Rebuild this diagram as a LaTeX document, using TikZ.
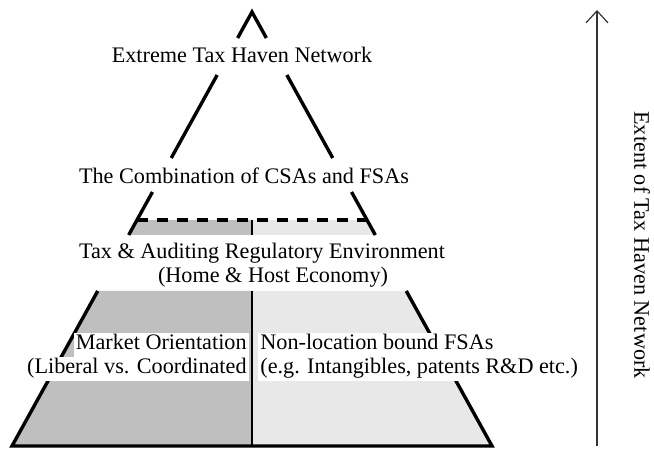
\documentclass[tikz,border=0pt]{standalone}
\usepackage{fontspec}
\setmainfont{Liberation Serif}
\usetikzlibrary{math}
\usetikzlibrary{calc}
\usetikzlibrary{arrows.meta}

\begin{document}
\begin{tikzpicture}[x=0.5pt,y=-0.5pt,
	side/.style={line width=1.7pt,line join=miter},
	dash line/.style={line width=1.8pt,dash pattern=on 5.5pt off 4.5pt},
	divider/.style={line width=1.4pt},
	dark/.style={fill=black!25},
	light/.style={fill=black!9},
	txt/.style={font=\fontsize{11.1}{12.5}\selectfont,inner sep=0pt,anchor=base},
	inbox/.style={txt,fill=white,text height=8pt,text depth=4pt,inner xsep=1pt,inner ysep=0pt},
	axis arrow/.style={line width=0.6pt,draw=black!80,-{Straight Barb[length=6pt,width=11pt]}}]

	\useasboundingbox (0,0) rectangle (654,449);

	\tikzmath{\h = 434;
			  \topend = 26/\h;
			  \midstart = 63/\h;
			  \midend = 146/\h;
			  \lowstart = 180/\h;
			  \dashy = 208/\h; 
			  \bandend = 223/\h;
			  \basestart = 279/\h;
	        }

	\coordinate (apex) at (252,12);
	\coordinate (bl) at (12,446);
	\coordinate (br) at (492,446);
	\coordinate (dl) at ($(apex)!\dashy!(bl)$);
	\coordinate (dr) at ($(apex)!\dashy!(br)$);
	\coordinate (el) at ($(apex)!\bandend!(bl)$);
	\coordinate (er) at ($(apex)!\bandend!(br)$);
	\coordinate (fl) at ($(apex)!\basestart!(bl)$);
	\coordinate (fr) at ($(apex)!\basestart!(br)$);

	% shaded halves
	\fill[dark] (dl) -- (apex |- dl) -- (apex |- el) -- (el) -- cycle;
	\fill[light] (dr) -- (apex |- dr) -- (apex |- er) -- (er) -- cycle;
	\fill[dark] (fl) -- (apex |- fl) -- (apex |- bl) -- (bl) -- cycle;
	\fill[light] (fr) -- (apex |- fr) -- (apex |- br) -- (br) -- cycle;

	% sides of the pyramid
	\draw[side] ($(apex)!\topend!(bl)$) -- (apex) -- ($(apex)!\topend!(br)$);
	\foreach \a/\b in {\midstart/\midend, \lowstart/\bandend}{
		\draw[side] ($(apex)!\a!(bl)$) -- ($(apex)!\b!(bl)$);
		\draw[side] ($(apex)!\a!(br)$) -- ($(apex)!\b!(br)$);
	}
	\draw[side] (fl) -- (bl) -- (br) -- (fr);
	\draw[dash line] (dl) -- (dr);
	\draw[divider] (apex |- dl) -- (apex |- el);
	\draw[divider] (apex |- fl) -- (apex |- bl);

	\node[txt] (ext) at (242,63) {Extreme Tax Haven Network};
	\node[txt] (comb) at (244,184) {The Combination of CSAs and FSAs};
	\node[txt] (tax) at (262,258) {Tax \& Auditing Regulatory Environment};
	\node[txt] (host) at (273,283) {(Home \& Host Economy)};
	\node[inbox,anchor=base east] (mkt) at (249,349) {Market Orientation};
	\node[inbox,anchor=base east] (lib) at (249,373) {(Liberal vs. Coordinated};
	\node[inbox,anchor=base west] (nlb) at (258,349) {Non-location bound FSAs};
	\node[inbox,anchor=base west] (intang) at (258,373) {(e.g. Intangibles, patents R\&D etc.)};

	% extent axis
	\coordinate (axbot) at (597,446);
	\coordinate (axtop) at (597,10);
	\draw[axis arrow] (axbot) -- (axtop);
	\node[txt,anchor=center,rotate=-90] (extent) at (642,245) {Extent of Tax Haven Network};
\end{tikzpicture}
\end{document}
